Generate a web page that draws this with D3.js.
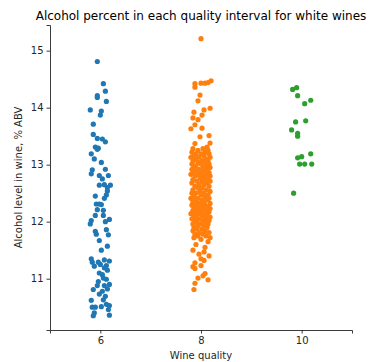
<!DOCTYPE html>
<html>
<head>
<meta charset="utf-8">
<script src="https://cdn.jsdelivr.net/npm/d3@7"></script>
<style>
  html, body { margin: 0; padding: 0; background: #fff; }
  svg { display: block; font-family: "DejaVu Sans", sans-serif; }
</style>
</head>
<body>
<svg id="chart" width="369" height="362"></svg>
<script>
// ---- data ----
const categories = ["6", "8", "10"];
const yTicks = [11, 12, 13, 14, 15];
const colors = ["#1f77b4", "#ff7f0e", "#2ca02c"];

// [alcohol %, horizontal jitter (category units)]
const quality6 = [
  [14.81,-0.03],[14.42,0.03],[14.29,0.05],[14.21,-0.03],[14.18,-0.03],[14.11,0.06],
  [13.96,-0.10],[13.94,0.01],[13.87,0.00],[13.71,-0.07],[13.53,-0.07],[13.46,-0.03],
  [13.45,0.02],[13.40,0.05],[13.31,-0.05],[13.29,-0.02],[13.27,-0.03],[13.19,-0.09],
  [13.04,0.01],[12.92,0.05],[12.91,-0.08],[12.84,-0.09],[12.81,-0.01],[12.81,0.08],
  [12.75,0.02],[12.64,-0.01],[12.64,0.10],[12.60,0.07],[12.54,0.07],[12.47,0.06],
  [12.41,0.04],[12.31,-0.04],[12.31,-0.01],[12.30,0.01],[12.21,-0.03],[12.20,0.03],
  [12.11,-0.05],[12.11,0.03],[12.02,-0.09],[12.04,0.09],[11.96,-0.10],[11.83,-0.05],
  [11.78,-0.04],[11.86,0.06],[11.77,0.08],[11.67,-0.01],[11.57,0.07],[11.50,0.01],
  [11.35,-0.09],[11.29,-0.08],[11.29,-0.02],[11.31,0.09],[11.22,-0.06],[11.23,0.06],
  [11.19,0.04],[11.10,-0.01],[11.07,0.02],[11.01,0.03],[10.99,0.06],[10.90,0.09],
  [10.88,0.04],[10.88,-0.03],[10.81,-0.07],[10.82,0.07],[10.73,-0.01],[10.69,0.05],
  [10.62,-0.09],[10.63,0.03],[10.50,-0.08],[10.50,-0.05],[10.51,0.01],[10.53,0.09],
  [10.46,0.08],[10.40,-0.06],[10.35,-0.07],[10.36,0.09],[11.25,0.00],[11.33,0.04],
  [10.95,-0.02],[10.78,0.02],[12.45,-0.05],[12.65,0.04],[11.15,0.07],[10.55,0.06],
  [12.00,0.05],[13.10,-0.06]
];

const quality8 = [
  [15.21,0.00],[14.42,-0.06],[14.36,-0.06],[14.43,0.00],[14.43,0.04],[14.47,0.10],
  [14.44,0.07],[14.22,-0.01],[14.12,-0.03],[13.92,-0.07],[13.96,0.03],[13.99,0.09],
  [13.82,-0.08],[13.87,0.01],[13.79,-0.03],[13.63,-0.10],[13.64,0.01],[13.70,-0.06],
  [13.51,0.08],[13.49,-0.01],[13.37,-0.06],[13.38,0.09],[13.31,0.06],
  [13.28,-0.08],[13.28,0.02],[13.25,-0.03],[13.25,0.07],[13.22,-0.09],[13.22,0.04],
  [13.19,0.00],[13.19,-0.05],[13.19,0.08],[13.16,-0.07],[13.16,0.03],
  [13.13,-0.02],[13.13,0.09],[13.13,-0.10],[13.10,0.05],[13.10,-0.05],
  [13.07,-0.08],[13.07,0.01],[13.07,0.07],[13.04,-0.03],[13.04,0.04],
  [13.01,-0.09],[13.01,0.00],[13.01,0.08],[12.98,-0.05],[12.98,0.05],
  [12.95,-0.07],[12.95,0.02],[12.95,0.09],[12.92,-0.02],[12.92,0.06],[12.92,-0.09],
  [12.89,-0.05],[12.89,0.03],[12.86,-0.08],[12.86,0.00],[12.86,0.08],
  [12.83,-0.03],[12.83,0.05],[12.83,-0.10],[12.80,-0.06],[12.80,0.02],[12.80,0.09],
  [12.77,-0.01],[12.77,0.07],[12.74,-0.08],[12.74,0.04],
  [12.71,-0.04],[12.71,0.01],[12.71,0.09],[12.68,-0.09],[12.68,0.06],
  [12.65,-0.02],[12.65,0.03],[12.62,-0.06],[12.62,0.08],[12.59,-0.03],[12.59,0.01],
  [12.56,-0.08],[12.56,0.05],[12.53,-0.01],[12.53,0.09],
  [12.50,-0.05],[12.50,0.03],[12.50,-0.09],[12.47,0.00],[12.47,0.07],
  [12.44,-0.07],[12.44,0.04],[12.41,-0.03],[12.41,0.08],[12.41,-0.10],
  [12.38,0.01],[12.38,-0.05],[12.38,0.06],[12.35,-0.08],[12.35,0.03],
  [12.32,-0.02],[12.32,0.09],[12.32,-0.06],[12.29,0.04],[12.29,-0.09],[12.29,0.00],
  [12.26,-0.04],[12.26,0.07],[12.26,-0.07],[12.23,0.02],[12.23,-0.01],[12.23,0.09],
  [12.20,-0.08],[12.20,0.05],[12.20,-0.04],[12.17,0.00],[12.17,0.08],[12.17,-0.06],
  [12.14,-0.03],[12.14,0.04],[12.14,-0.10],[12.11,0.06],[12.11,-0.07],[12.11,0.01],
  [12.08,-0.05],[12.08,0.09],[12.08,0.03],[12.05,-0.02],[12.05,-0.09],[12.05,0.06],
  [12.02,0.02],[12.02,-0.06],[12.02,0.08],[11.99,-0.04],[11.99,0.05],
  [11.96,0.00],[11.96,-0.08],[11.96,0.07],[11.93,-0.03],[11.93,0.03],
  [11.90,-0.07],[11.90,0.06],[11.87,0.01],[11.87,-0.04],[11.84,-0.08],[11.84,0.04],
  [11.81,-0.02],[11.81,0.08],[11.78,-0.06],[11.78,0.02],[11.75,0.05],[11.75,-0.03],
  [11.72,-0.07],[11.72,0.09],[11.69,0.00],[11.65,0.07],
  [11.60,-0.05],[11.55,0.04],[11.50,-0.08],[11.47,0.03],[11.43,-0.02],[11.40,0.08],
  [11.35,0.00],[11.32,0.03],[11.28,-0.06],[11.21,-0.08],[11.18,-0.06],[11.23,0.00],
  [11.09,0.04],[11.01,-0.03],[10.98,0.07],[10.92,-0.06],[10.81,-0.07],[11.05,0.02]
];

const quality10 = [
  [14.32,-0.09],[14.35,-0.05],[14.21,-0.04],[14.07,0.03],[14.13,0.09],[13.75,-0.06],
  [13.77,0.04],[13.61,-0.10],[13.55,-0.04],[13.50,-0.04],[13.12,-0.04],[13.14,0.00],
  [13.19,0.09],[13.01,-0.02],[13.01,0.03],[13.01,0.10],[12.50,-0.08]
];

const series = [quality6, quality8, quality10];

// ---- layout ----
const svg = d3.select("#chart");
const margin = { left: 50, right: 17, top: 25, bottom: 32 };
const W = 369, H = 362;
const x = d3.scaleLinear().domain([-0.5, categories.length - 0.5]).range([margin.left, W - margin.right]);
const y = d3.scaleLinear().domain([10.1, 15.45]).range([H - margin.bottom, margin.top]);

// points
series.forEach((pts, i) => {
  svg.append("g").selectAll("circle").data(pts).join("circle")
    .attr("cx", d => x(i + d[1]))
    .attr("cy", d => y(d[0]))
    .attr("r", 2.6)
    .attr("fill", colors[i]);
});

// axes
const xAxis = d3.axisBottom(x).tickValues(categories.map((c, i) => i))
  .tickFormat(i => categories[i]).tickSizeOuter(0).tickSize(3.5).tickPadding(3);
const gx = svg.append("g").attr("transform", `translate(0,${H - margin.bottom})`).call(xAxis);
const yAxis = d3.axisLeft(y).tickValues(yTicks).tickFormat(d3.format("d"))
  .tickSizeOuter(0).tickSize(3.5).tickPadding(3);
const gy = svg.append("g").attr("transform", `translate(${margin.left},0)`).call(yAxis);
[gx, gy].forEach(g => {
  g.selectAll("path").attr("stroke", "#262626").attr("stroke-width", 0.9);
  g.selectAll("line").attr("stroke", "#262626").attr("stroke-width", 0.9);
  g.selectAll("text").attr("fill", "#262626").style("font-size", "10px").style("font-family", "DejaVu Sans");
});

// labels
svg.append("text").attr("x", (margin.left + W - margin.right) / 2).attr("y", H - 3)
  .attr("text-anchor", "middle").style("font-size", "10px").attr("fill", "#262626")
  .text("Wine quality");
svg.append("text").attr("transform", `translate(22,${(margin.top + H - margin.bottom) / 2}) rotate(-90)`)
  .attr("text-anchor", "middle").style("font-size", "10px").attr("fill", "#262626")
  .text("Alcohol level in wine, % ABV");
svg.append("text").attr("x", (margin.left + W - margin.right) / 2).attr("y", 20)
  .attr("text-anchor", "middle").style("font-size", "12px").attr("fill", "#000")
  .text("Alcohol percent in each quality interval for white wines");
</script>
</body>
</html>
